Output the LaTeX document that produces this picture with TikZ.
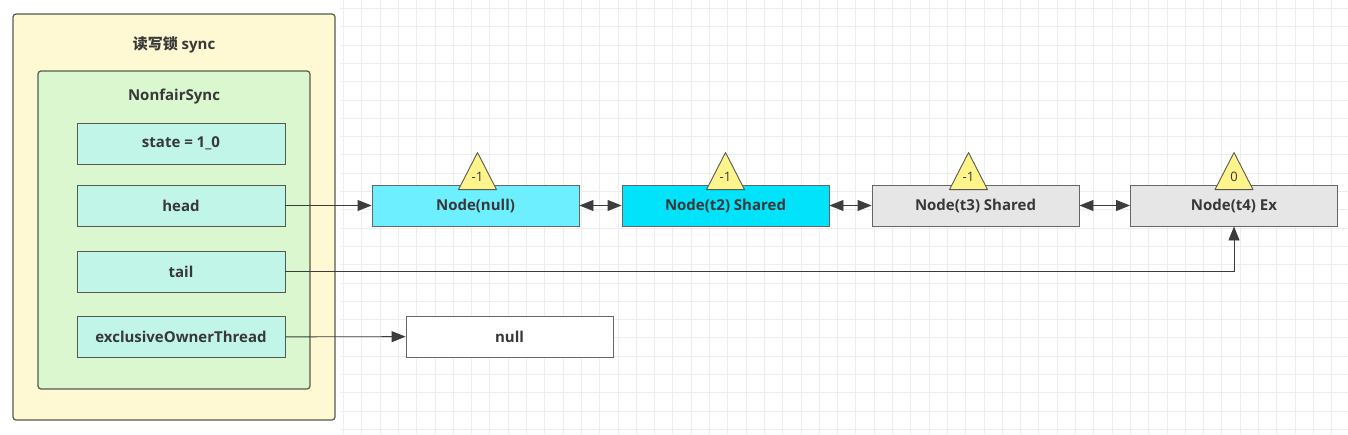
\documentclass[tikz,border=0pt]{standalone}
\usepackage{fontspec}
\setmainfont{Open Sans}
\newfontfamily\cjk{Noto Sans CJK SC Bold}
\usepackage{tikz}
\usetikzlibrary{arrows.meta}

\definecolor{amarillo}{HTML}{FFF9D3}
\definecolor{verde}{HTML}{DAF7D0}
\definecolor{celeste}{HTML}{C0F5E8}
\definecolor{cianclaro}{HTML}{6DEFFF}
\definecolor{cian}{HTML}{00E3FA}
\definecolor{grisnodo}{HTML}{E6E6E6}
\definecolor{triamarillo}{HTML}{FFF48C}
\definecolor{borde}{HTML}{555A4E}
\definecolor{linea}{HTML}{3C3C3C}
\definecolor{texto}{HTML}{383838}

\tikzset{
  rejilla/.style={draw=black!7, line width=0.7pt},
  caja/.style={draw=borde, line width=1.2pt, rounded corners=3pt},
  titulo/.style={font=\bfseries\fontsize{15}{17}\selectfont, text=texto},
  campo/.style={draw=borde, line width=0.9pt, fill=celeste, minimum width=208pt,
    minimum height=41pt, inner sep=0pt, font=\bfseries\fontsize{15}{17}\selectfont, text=texto},
  nodo/.style={campo, draw=black!60, minimum width=207pt},
  tri/.style={draw=borde, line width=0.9pt, fill=triamarillo, line join=round},
  etiq/.style={font=\fontsize{13}{14}\selectfont, text=texto, inner sep=0pt},
  flecha/.style={draw=linea, line width=0.9pt, -{Triangle[length=14pt,width=11pt]}},
  dflecha/.style={draw=linea, line width=0.9pt, {Triangle[length=14pt,width=11pt]}-{Triangle[length=14pt,width=11pt]}}
}

\begin{document}
\begin{tikzpicture}[x=1pt,y=-1pt]
\useasboundingbox (0,0) rectangle (1348,434);

% Cuadricula de fondo
\foreach \i in {0,...,55} \draw[rejilla] (343.4+\i*18.3,0) -- (343.4+\i*18.3,434);
\foreach \j in {0,...,23} \draw[rejilla] (340,8.4+\j*18.3) -- (1348,8.4+\j*18.3);

% Caja exterior (sync) y caja NonfairSync
\draw[caja, fill=amarillo] (13,14) rectangle (335,420);
\node[titulo] (tsync) at (174,45) {{\cjk 读写锁} sync};
\draw[caja, fill=verde] (38,71) rectangle (310,389);
\node[titulo] (tnf) at (174,97) {NonfairSync};

% Campos
\node[campo] (state) at (181,143.5) {state = 1\_0};
\node[campo] (head) at (181,205.5) {head};
\node[campo] (tail) at (181,271.5) {tail};
\node[campo] (owner) at (181,337) {exclusiveOwnerThread};

% Cola de nodos
\node[nodo, fill=cianclaro] (nnull) at (475.5,205.5) {Node(null)};
\node[nodo, fill=cian] (nt2) at (725.5,205.5) {Node(t2) Shared};
\node[nodo, fill=grisnodo] (nt3) at (975.5,205.5) {Node(t3) Shared};
\node[nodo, fill=grisnodo] (nt4) at (1234,205.5) {Node(t4) Ex};
\node[nodo, fill=white] (vnull) at (509.5,336.5) {null};

% Estados (triangulos)
\foreach \n/\v/\d in {nnull/-1/2, nt2/-1/0, nt3/-1/-7, nt4/0/0} {
  \draw[tri] ([xshift=\d pt-19pt,yshift=-5pt]\n.north) -- ([xshift=\d pt+19pt,yshift=-5pt]\n.north)
    -- ([xshift=\d pt,yshift=32pt]\n.north) -- cycle;
  \node[etiq] (e\n) at ([xshift=\d pt,yshift=8pt]\n.north) {\v};
}

% Conexiones
\draw[flecha] (head) -- (nnull);
\draw[dflecha] (nnull) -- (nt2);
\draw[dflecha] (nt2) -- (nt3);
\draw[dflecha] (nt3) -- (nt4);
\draw[flecha] (tail.east) -| (nt4.south);
\draw[flecha] (owner) -- (vnull);

\end{tikzpicture}
\end{document}
